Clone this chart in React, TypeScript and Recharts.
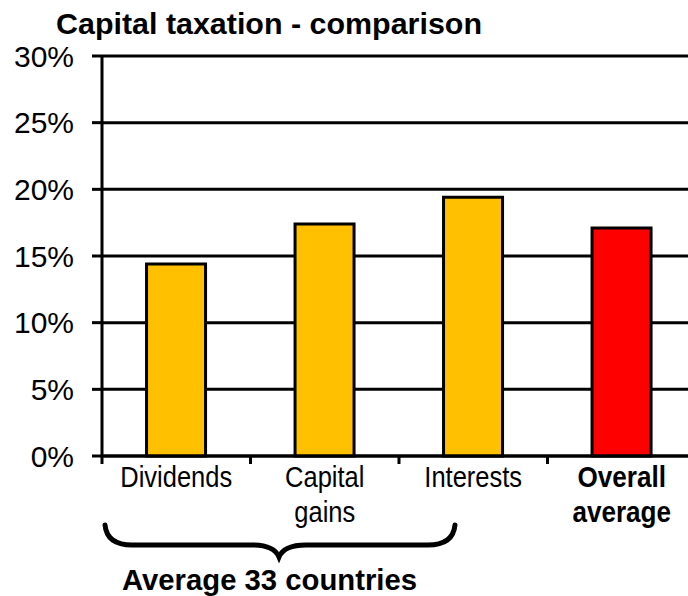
import { BarChart, Bar, XAxis, YAxis, CartesianGrid, Cell } from "recharts";

const categories = ["Dividends", "Capital gains", "Interests", "Overall average"];
const labelLines = [["Dividends"], ["Capital", "gains"], ["Interests"], ["Overall", "average"]];
const values = [14.4, 17.4, 19.4, 17.1];
const barColors = ["#FFC000", "#FFC000", "#FFC000", "#FF0000"];
const yTicks = [0, 5, 10, 15, 20, 25, 30];
const highlighted = "Overall average";
const title = "Capital taxation - comparison";
const groupLabel = "Average 33 countries";

const data = categories.map((name, i) => ({ name, value: values[i] }));

const FONT = "'Liberation Sans', Arial, sans-serif";
const W = 700;
const H = 596;
const margin = { top: 56, right: 4, left: 0, bottom: 0 };
const Y_AXIS_W = 102;
const X_AXIS_H = 140;

// the original labels look like a condensed Arial
function XTick(props: any) {
  const { x, y, payload, index } = props;
  const half = payload.offset || 0;
  const lines = labelLines[index] || [payload.value];
  const bold = payload.value === highlighted;
  const sx = bold ? 0.87 : 0.85;
  return (
    <g>
      <line x1={x - half} y1={y - 8} x2={x - half} y2={y} stroke="#000" strokeWidth={3} />
      {index === categories.length - 1 && (
        <line x1={x + half} y1={y - 8} x2={x + half} y2={y} stroke="#000" strokeWidth={3} />
      )}
      <g transform={`translate(${x},0) scale(${sx},1) translate(${-x},0)`}>
        <text
          x={x}
          y={y + 23}
          textAnchor="middle"
          fontFamily={FONT}
          fontSize={30}
          fontWeight={bold ? 700 : 400}
          fill="#000"
        >
          {lines.map((l: string, i: number) => (
            <tspan key={i} x={x} dy={i === 0 ? 0 : 35}>
              {l}
            </tspan>
          ))}
        </text>
      </g>
    </g>
  );
}

export default function App() {
  return (
    <div
      style={{
        position: "fixed",
        left: 0,
        top: 0,
        width: 688,
        height: 596,
        overflow: "hidden",
        background: "#fff",
      }}
    >
      <BarChart
        width={W}
        height={H}
        data={data}
        margin={margin}
        barCategoryGap="30%"
      >
        <CartesianGrid vertical={false} stroke="#000" strokeWidth={3} />
        <XAxis
          dataKey="name"
          height={X_AXIS_H}
          axisLine={{ stroke: "#000", strokeWidth: 3 }}
          tickLine={false}
          tick={<XTick />}
          interval={0}
        />
        <YAxis
          width={Y_AXIS_W}
          domain={[0, 30]}
          ticks={yTicks}
          tickFormatter={(v) => `${v}%`}
          axisLine={{ stroke: "#000", strokeWidth: 3 }}
          tickLine={{ stroke: "#000", strokeWidth: 3 }}
          tickSize={10}
          tickMargin={18}
          tick={{ fill: "#000", fontSize: 30, fontFamily: FONT }}
        />
        <Bar dataKey="value" stroke="#000" strokeWidth={3} isAnimationActive={false}>
          {data.map((d, i) => (
            <Cell key={d.name} fill={barColors[i]} />
          ))}
        </Bar>
      </BarChart>
      <svg
        width={688}
        height={596}
        style={{ position: "absolute", left: 0, top: 0, pointerEvents: "none" }}
      >
        <text
          x={56}
          y={34}
          fontFamily={FONT}
          fontWeight={700}
          fontSize={30}
          textLength={426}
          lengthAdjust="spacingAndGlyphs"
          fill="#000"
        >
          {title}
        </text>
        <path
          d="M105,525 Q107,545 132,545 L252,545 Q274,545 279,557 Q284,545 306,545 L428,545 Q453,545 455,525"
          fill="none"
          stroke="#000"
          strokeWidth={5}
          strokeLinecap="round"
        />
        <text
          x={122}
          y={590}
          fontFamily={FONT}
          fontWeight={700}
          fontSize={30}
          textLength={295}
          lengthAdjust="spacingAndGlyphs"
          fill="#000"
        >
          {groupLabel}
        </text>
      </svg>
    </div>
  );
}
